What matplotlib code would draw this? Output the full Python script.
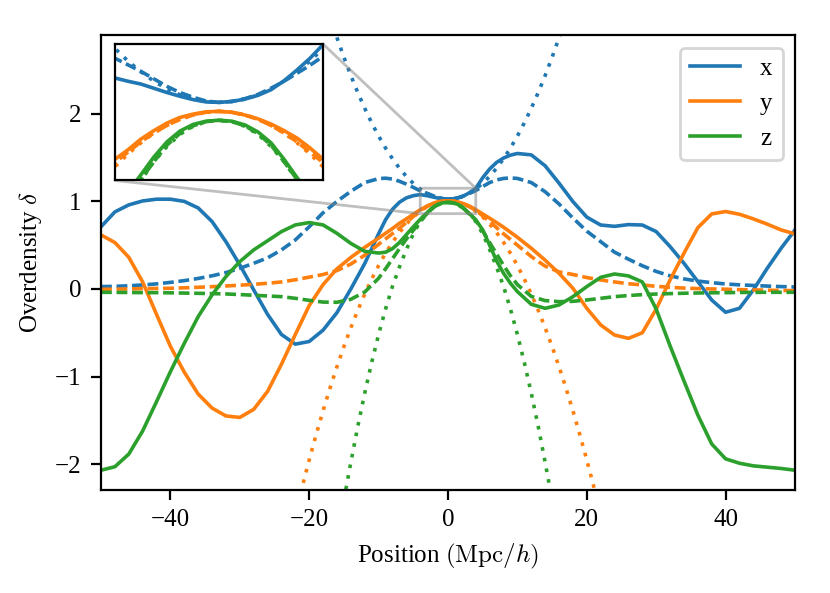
import matplotlib
matplotlib.use("Agg")
import matplotlib.pyplot as plt

plt.rcParams['font.family'] = ['Liberation Serif', 'DejaVu Serif']
plt.rcParams['mathtext.fontset'] = 'cm'
plt.rcParams['font.size'] = 9

# positions shared by the solid and dashed curves
x = [-50, -48, -46, -44, -42, -40, -38, -36, -34, -32, -30, -28, -26, -24, -22, -20, -18, -16, -14, -12, -10,
     -9, -8, -7, -6, -5,
     -4, -3.5, -3, -2.5, -2, -1.5, -1, -0.5, 0, 0.5, 1, 1.5, 2, 2.5, 3, 3.5, 4,
     5, 6, 7, 8, 9,
     10, 12, 14, 16, 18, 20, 22, 24, 26, 28, 30, 32, 34, 36, 38, 40, 42, 44, 46, 48, 50]

x_solid = [0.71, 0.88, 0.96, 1.005, 1.025, 1.025, 1.0, 0.925, 0.77, 0.54, 0.275, -0.01, -0.29, -0.52, -0.63, -0.60, -0.47, -0.27, 0.0, 0.29, 0.63,
           0.79, 0.91, 0.99, 1.04, 1.065,
           1.078, 1.071, 1.065, 1.056, 1.047, 1.039, 1.032, 1.027, 1.026, 1.028, 1.033, 1.041, 1.053, 1.072, 1.095, 1.12, 1.149,
           1.27, 1.37, 1.445, 1.495, 1.528,
           1.547, 1.531, 1.406, 1.208, 0.998, 0.82, 0.73, 0.715, 0.735, 0.73, 0.655, 0.484, 0.293, 0.084, -0.126, -0.266, -0.221, -0.011, 0.236, 0.465, 0.674]
x_dashed = [0.027, 0.03, 0.036, 0.046, 0.058, 0.075, 0.095, 0.12, 0.15, 0.187, 0.236, 0.293, 0.355, 0.446, 0.56, 0.71, 0.87, 1.0, 1.115, 1.215, 1.26,
            1.265, 1.255, 1.23, 1.197, 1.16,
            1.12, 1.106, 1.092, 1.076, 1.06, 1.047, 1.037, 1.029, 1.026, 1.028, 1.034, 1.043, 1.056, 1.071, 1.088, 1.105, 1.124,
            1.17, 1.215, 1.245, 1.262, 1.268,
            1.262, 1.215, 1.11, 0.97, 0.81, 0.66, 0.54, 0.42, 0.34, 0.265, 0.2, 0.15, 0.115, 0.09, 0.072, 0.057, 0.047, 0.04, 0.033, 0.027, 0.022]

y_solid = [0.617, 0.53, 0.362, 0.08, -0.29, -0.655, -0.95, -1.2, -1.36, -1.45, -1.467, -1.375, -1.17, -0.86, -0.52, -0.19, 0.05, 0.23, 0.36, 0.475, 0.58,
           0.636, 0.69, 0.75, 0.80, 0.853,
           0.905, 0.925, 0.948, 0.966, 0.982, 0.994, 1.001, 1.006, 1.007, 1.005, 0.999, 0.991, 0.98, 0.966, 0.95, 0.929, 0.905,
           0.857, 0.808, 0.758, 0.705, 0.648,
           0.59, 0.465, 0.328, 0.179, 0.008, -0.221, -0.411, -0.526, -0.564, -0.5, -0.23, 0.103, 0.408, 0.70, 0.857, 0.884, 0.853, 0.80, 0.74, 0.674, 0.629]
y_dashed = [-0.004, -0.002, 0.0, 0.004, 0.006, 0.008, 0.013, 0.019, 0.026, 0.034, 0.043, 0.053, 0.065, 0.08, 0.105, 0.135, 0.165, 0.21, 0.285, 0.385, 0.51,
            0.571, 0.632, 0.693, 0.76, 0.827,
            0.898, 0.92, 0.942, 0.961, 0.977, 0.99, 0.999, 1.005, 1.007, 1.005, 0.999, 0.99, 0.977, 0.961, 0.942, 0.92, 0.898,
            0.835, 0.77, 0.70, 0.63, 0.565,
            0.50, 0.37, 0.26, 0.195, 0.165, 0.13, 0.103, 0.08, 0.06, 0.046, 0.03, 0.019, 0.01, 0.004, 0.0, -0.003, -0.008, -0.011, -0.014, -0.017, -0.019]

z_solid = [-2.07, -2.03, -1.886, -1.622, -1.287, -0.945, -0.621, -0.316, -0.068, 0.141, 0.312, 0.446, 0.55, 0.655, 0.731, 0.758, 0.731, 0.635, 0.52, 0.43, 0.41,
           0.42, 0.46, 0.53, 0.62, 0.71,
           0.795, 0.835, 0.872, 0.91, 0.942, 0.965, 0.979, 0.986, 0.988, 0.986, 0.978, 0.963, 0.94, 0.905, 0.866, 0.83, 0.79,
           0.675, 0.50, 0.32, 0.18, 0.065,
           -0.03, -0.175, -0.221, -0.183, -0.088, 0.027, 0.133, 0.171, 0.149, 0.08, -0.23, -0.65, -1.05, -1.44, -1.77, -1.94, -1.99, -2.02, -2.035, -2.05, -2.07]
z_dashed = [-0.038, -0.039, -0.04, -0.042, -0.042, -0.044, -0.047, -0.05, -0.053, -0.057, -0.064, -0.072, -0.08, -0.088, -0.107, -0.13, -0.15, -0.152, -0.118, -0.035, 0.122,
            0.23, 0.345, 0.46, 0.57, 0.67,
            0.77, 0.82, 0.862, 0.9, 0.935, 0.96, 0.976, 0.985, 0.988, 0.985, 0.976, 0.96, 0.935, 0.9, 0.862, 0.825, 0.785,
            0.665, 0.53, 0.40, 0.27, 0.15,
            0.05, -0.085, -0.133, -0.145, -0.141, -0.126, -0.107, -0.088, -0.075, -0.065, -0.058, -0.053, -0.049, -0.046, -0.044, -0.042, -0.04, -0.039, -0.038, -0.038, -0.038]

# dotted curves, each over its own range
x_dot_pos = [-17, -16, -15, -14, -13, -12, -11, -10, -9, -8, -7, -6, -5,
             -4, -3.5, -3, -2.5, -2, -1.5, -1, -0.5, 0, 0.5, 1, 1.5, 2, 2.5, 3, 3.5, 4,
             5, 6, 7, 8, 9, 10, 11, 12, 13, 14, 15, 16, 17]
x_dotted = [3.107, 2.869, 2.646, 2.437, 2.243, 2.063, 1.897, 1.746, 1.609, 1.487, 1.379, 1.285, 1.206,
            1.141, 1.114, 1.091, 1.071, 1.055, 1.042, 1.033, 1.028, 1.026, 1.028, 1.033, 1.042, 1.055, 1.071, 1.091, 1.114, 1.141,
            1.206, 1.285, 1.379, 1.487, 1.609, 1.746, 1.897, 2.063, 2.243, 2.437, 2.646, 2.869, 3.107]

y_dot_pos = [-22, -21, -20, -19, -18, -17, -16, -15, -14, -13, -12, -11, -10, -9, -8, -7, -6, -5,
             -4, -3.5, -3, -2.5, -2, -1.5, -1, -0.5, 0, 0.5, 1, 1.5, 2, 2.5, 3, 3.5, 4,
             5, 6, 7, 8, 9, 10, 11, 12, 13, 14, 15, 16, 17, 18, 19, 20, 21, 22]
y_dotted = [-2.575, -2.256, -1.953, -1.664, -1.391, -1.132, -0.887, -0.658, -0.443, -0.244, -0.059, 0.112, 0.267, 0.408, 0.533, 0.644, 0.741, 0.822,
            0.889, 0.916, 0.94, 0.961, 0.977, 0.99, 1.0, 1.005, 1.007, 1.005, 1.0, 0.99, 0.977, 0.961, 0.94, 0.916, 0.889,
            0.822, 0.741, 0.644, 0.533, 0.408, 0.267, 0.112, -0.059, -0.244, -0.443, -0.658, -0.887, -1.132, -1.391, -1.664, -1.953, -2.256, -2.575]

z_dot_pos = [-15, -14, -13, -12, -11, -10, -9, -8, -7, -6, -5,
             -4, -3.5, -3, -2.5, -2, -1.5, -1, -0.5, 0, 0.5, 1, 1.5, 2, 2.5, 3, 3.5, 4,
             5, 6, 7, 8, 9, 10, 11, 12, 13, 14, 15]
z_dotted = [-2.41, -1.98, -1.57, -1.19, -0.84, -0.52, -0.23, 0.03, 0.25, 0.45, 0.63,
            0.77, 0.815, 0.86, 0.9, 0.932, 0.958, 0.975, 0.985, 0.988, 0.985, 0.975, 0.958, 0.932, 0.9, 0.86, 0.815, 0.77,
            0.63, 0.45, 0.25, 0.03, -0.23, -0.52, -0.84, -1.19, -1.57, -1.98, -2.41]

series = [
    ('x', 'C0', x_solid, x_dashed, x_dot_pos, x_dotted),
    ('y', 'C1', y_solid, y_dashed, y_dot_pos, y_dotted),
    ('z', 'C2', z_solid, z_dashed, z_dot_pos, z_dotted),
]

LW = 1.3


def draw(a, with_labels):
    for name, c, solid, dashed, xd, dotted in series:
        a.plot(x, solid, color=c, lw=LW, label=name if with_labels else None)
        a.plot(x, dashed, color=c, lw=LW, ls=(0, (3.0, 1.3)))
        a.plot(xd, dotted, color=c, lw=LW, ls=(0, (1, 2.0)))


fig = plt.figure(figsize=(4.15, 2.965), dpi=200)
ax = fig.add_axes([101 / 830, 1 - 489.5 / 593, 694 / 830, 454.5 / 593])
draw(ax, True)
ax.set_xlim(-50, 50)
ax.set_ylim(-2.29, 2.9)
ax.set_xlabel(r'Position $(\mathrm{Mpc}/h)$')
ax.set_ylabel(r'Overdensity $\delta$')
ax.legend(loc='upper right')

## zoomed view of the centre
axins = ax.inset_axes([0.02, 0.68, 0.3, 0.3])
draw(axins, False)
axins.set_xlim(-4, 4)
axins.set_ylim(0.86, 1.15)
axins.set_xticks([])
axins.set_yticks([])
ax.indicate_inset_zoom(axins, edgecolor='0.5', alpha=0.5, linewidth=1.0)

fig.savefig('out.png', dpi=200)
